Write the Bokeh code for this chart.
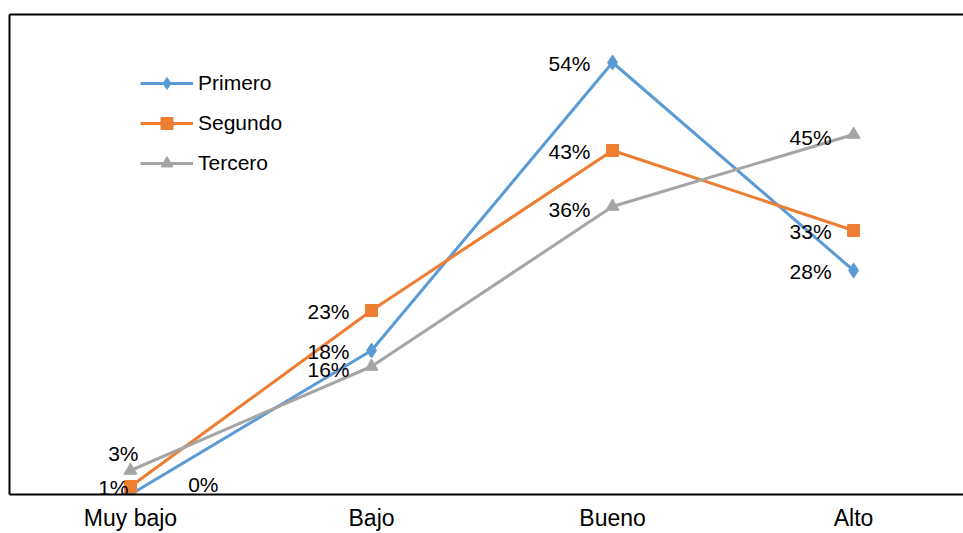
from bokeh.plotting import figure
from bokeh.models import (ColumnDataSource, Range1d, FixedTicker, LinearAxis,
                          Legend, LegendItem, LabelSet)
from bokeh.core.properties import value
from bokeh.embed import file_html
from bokeh.resources import INLINE

categories = ["Muy bajo", "Bajo", "Bueno", "Alto"]
primero = [0, 18, 54, 28]
segundo = [1, 23, 43, 33]
tercero = [3, 16, 36, 45]

FONT = "Liberation Sans"

p = figure(width=963, height=533, output_backend="svg", toolbar_location=None,
           x_range=Range1d(-0.502, 3.456), y_range=Range1d(0, 60),
           min_border_left=9, min_border_right=0, min_border_top=14,
           min_border_bottom=39)
p.outline_line_color = None
p.grid.grid_line_color = None
p.background_fill_color = "white"
p.border_fill_color = "white"

# bottom category axis
xa = p.below[0]
xa.ticker = FixedTicker(ticks=list(range(len(categories))))
xa.major_label_overrides = {i: c for i, c in enumerate(categories)}
xa.major_tick_line_color = None
xa.minor_tick_line_color = None
xa.axis_line_color = "black"
xa.axis_line_width = 2
xa.major_label_text_font = FONT
xa.major_label_text_font_size = "23px"
xa.major_label_text_color = "black"
xa.major_label_standoff = 4

def frame_axis(ax):
    ax.ticker = FixedTicker(ticks=[])
    ax.major_tick_line_color = None
    ax.minor_tick_line_color = None
    ax.major_label_standoff = 0
    ax.axis_line_color = "black"
    ax.axis_line_width = 2

frame_axis(p.left[0])
top = LinearAxis()
frame_axis(top)
p.add_layout(top, "above")

series = [
    ("Primero", primero, "#5B9BD5", "diamond", 15),
    ("Segundo", segundo, "#ED7D31", "square", 12),
    ("Tercero", tercero, "#A5A5A5", "triangle", 13),
]

# per-label offsets (style)
offsets = {
    ("Primero", 0): (88, 10),
    ("Segundo", 0): (-2, -1),
    ("Tercero", 0): (8, 17),
}

items = []
for name, vals, color, marker, size in series:
    xs = list(range(len(vals)))
    xo, yo = [], []
    for i in xs:
        o = offsets.get((name, i))
        if o:
            xo.append(o[0]); yo.append(o[1])
        else:
            xo.append(-22); yo.append(-1 if name != "Tercero" else -3)
    src = ColumnDataSource(dict(x=xs, y=vals, lab=[f"{v}%" for v in vals],
                                xo=xo, yo=yo))
    ln = p.line("x", "y", source=src, line_color=color, line_width=3)
    mk = p.scatter("x", "y", source=src, marker=marker, size=size,
                   fill_color=color, line_color=color)
    items.append(LegendItem(label=name, renderers=[ln, mk]))
    p.add_layout(LabelSet(x="x", y="y", text="lab", source=src, x_offset="xo",
                          y_offset="yo", text_align="right",
                          text_baseline="middle", text_font=value(FONT),
                          text_font_size="21px", text_color="black"))

legend = Legend(items=items, location=(131, 316), orientation="vertical",
                glyph_width=53, glyph_height=30, label_height=20,
                label_standoff=5, spacing=10, padding=0, margin=0,
                border_line_color=None, background_fill_alpha=0,
                label_text_font=FONT, label_text_font_size="21px",
                label_text_color="black")
p.add_layout(legend)

open("out.html", "w").write(file_html(p, INLINE))
